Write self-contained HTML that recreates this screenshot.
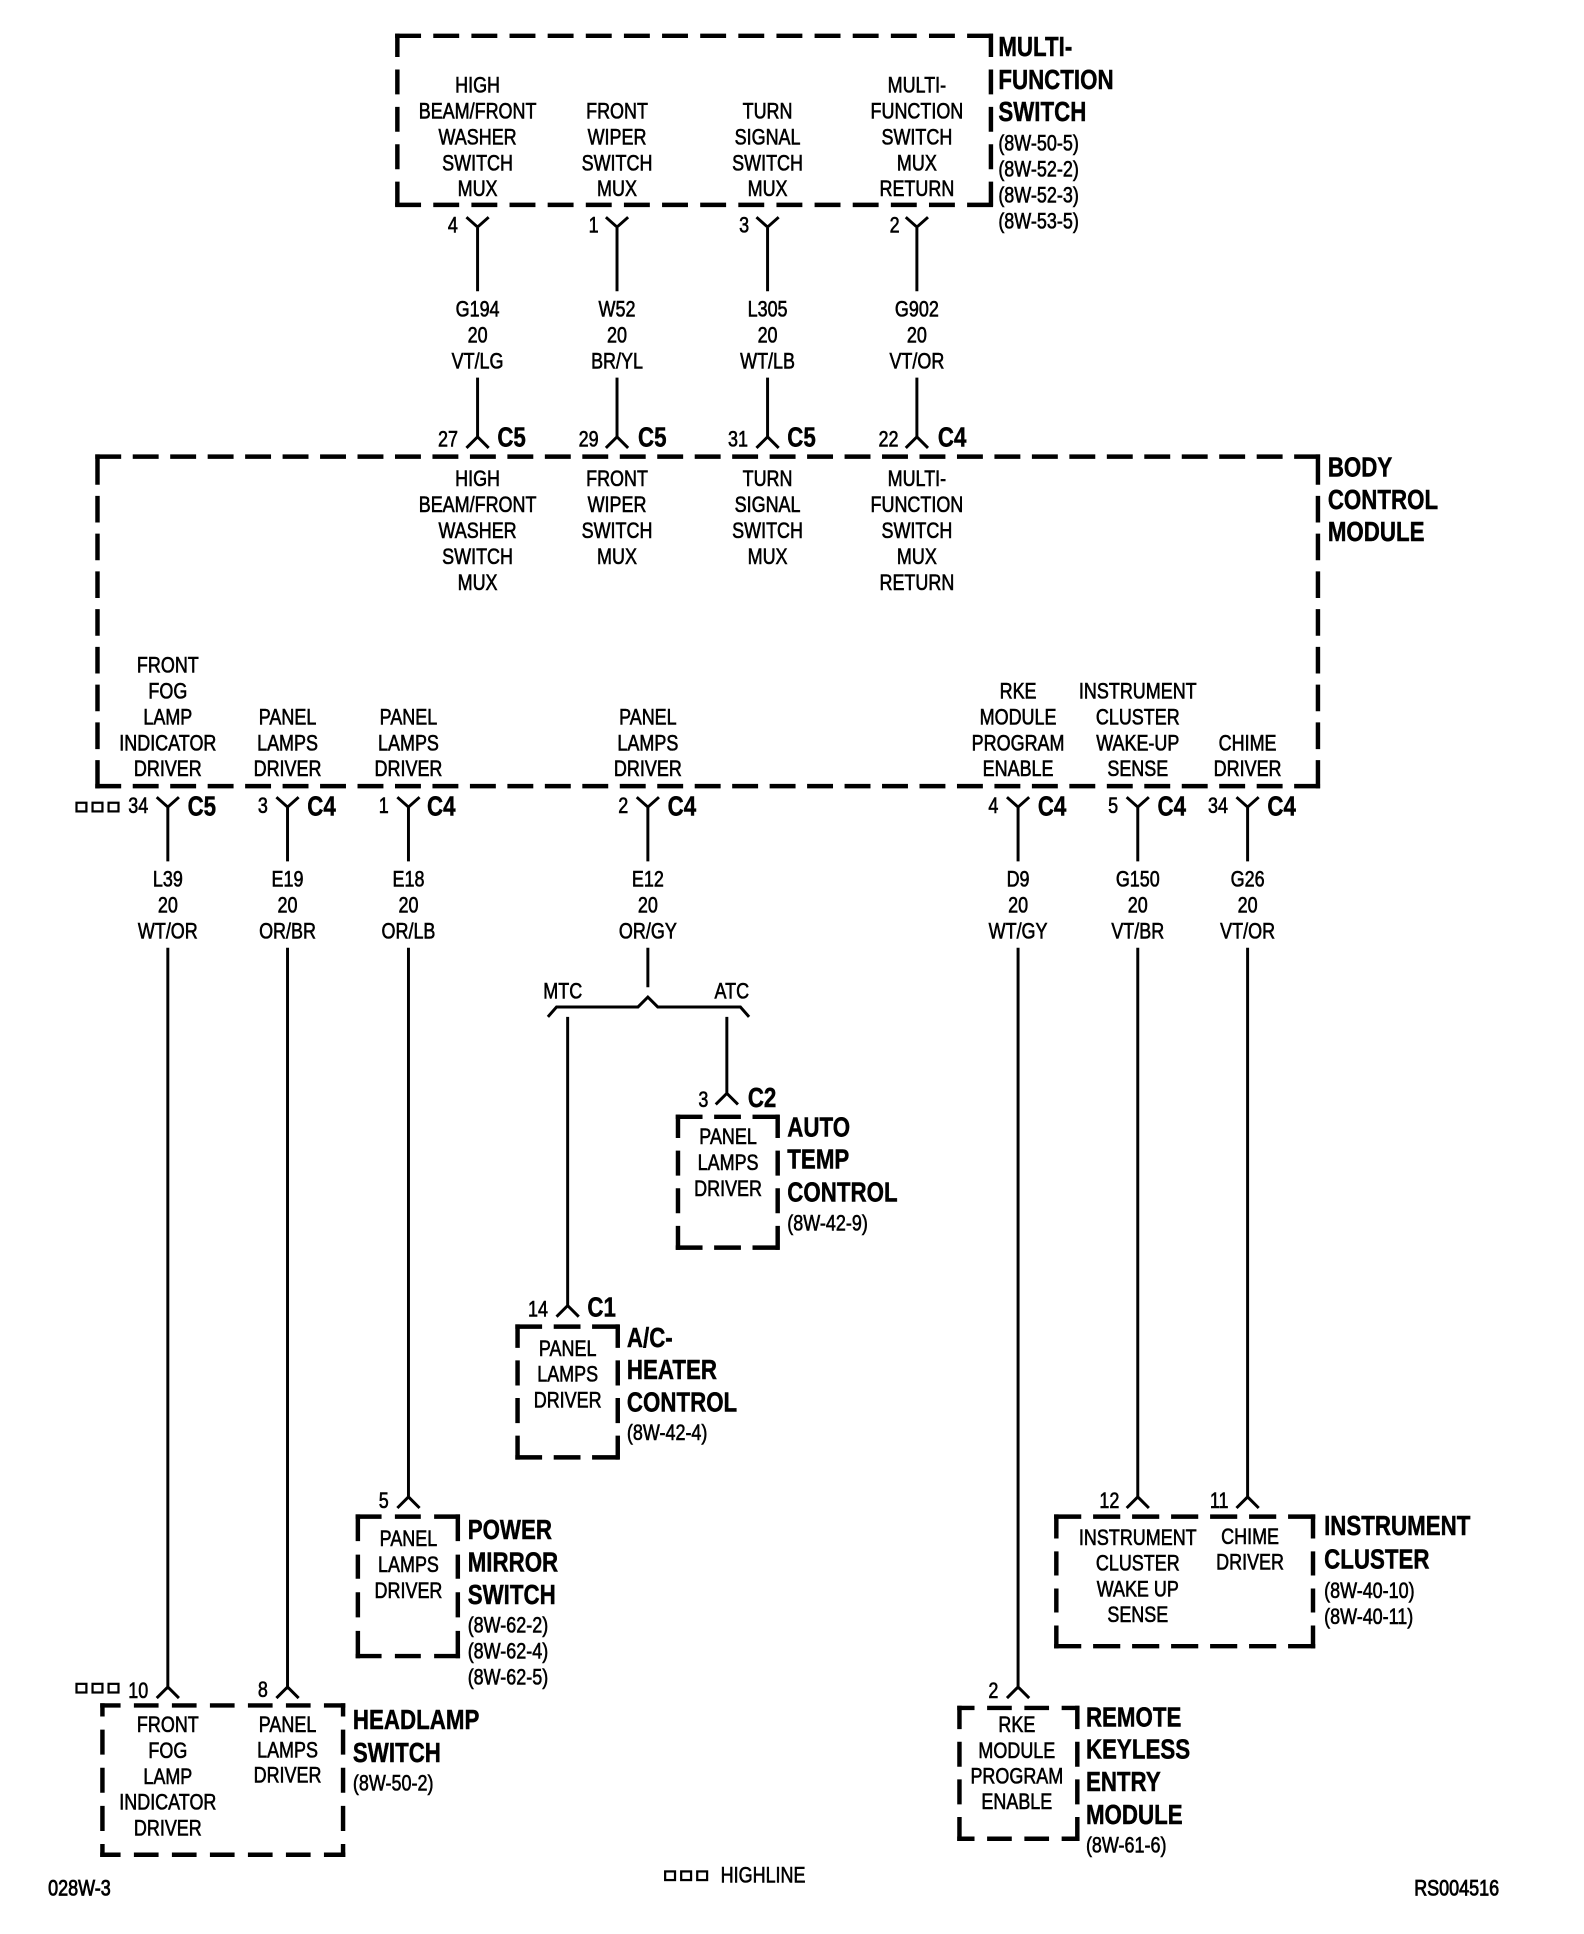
<!DOCTYPE html>
<html><head><meta charset="utf-8"><title>Wiring diagram</title>
<style>
html,body{margin:0;padding:0;background:#fff}
svg{display:block}
text{font-family:"Liberation Sans",Arial,sans-serif;fill:#000}
.r text{font-size:18.2px;stroke:#000;stroke-width:.5px}
.c text{text-anchor:middle}
.b text{font-size:22.6px;font-weight:700;stroke:#000;stroke-width:.4px}
.b text.r{font-size:18.2px;font-weight:400;stroke-width:.5px}
.d{fill:none;stroke:#000;stroke-width:3.6}
.w{fill:none;stroke:#000;stroke-width:2.4}
.s{fill:none;stroke:#000;stroke-width:1.8}
</style></head><body>
<svg xmlns="http://www.w3.org/2000/svg" width="1584" height="1934" viewBox="0 0 1283.6 1567.2">

<!-- dashed boxes -->
<path class="d" stroke-dasharray="21 9.9" d="M320.2 29H804.8M320.2 166H804.8"/>
<path class="d" stroke-dasharray="19 10.1 20.2 10.1 20.2 10.1 20.2 10.1 20" d="M322 27.2V167.8M803 27.2V167.8"/>
<path class="d" stroke-dasharray="21 9.36" d="M77.2 370H1069.8M77.2 637H1069.8"/>
<path class="d" stroke-dasharray="24.6 9 21.6 9 21.6 9 21.6 9 21.6 9 21.6 9 21.6 9 21.6 9 99" d="M79 368.2V638.8M1068 368.2V638.8"/>
<path class="d" stroke-dasharray="21.7 9.4" d="M547.6 905H632M547.6 1011H632"/>
<path class="d" stroke-dasharray="19 10.2 20.3 10.2 20.3 10.2 20" d="M549.4 903.2V1012.8M630.2 903.2V1012.8"/>
<path class="d" stroke-dasharray="21.7 9.4" d="M417.6 1075H502.4M417.6 1181H502.4"/>
<path class="d" stroke-dasharray="19 10.2 20.3 10.2 20.3 10.2 20" d="M419.4 1073.2V1182.8M500.6 1073.2V1182.8"/>
<path class="d" stroke-dasharray="21 10.8" d="M288.2 1229H372.8M288.2 1342H372.8"/>
<path class="d" stroke-dasharray="21.6 11 19.5 11 20.3 11 23" d="M290 1227.2V1343.8M371 1227.2V1343.8"/>
<path class="d" stroke-dasharray="16.5 10.8 20 10.8 20 10.8 20 10.8 20 10.8 20 10.8 20" d="M81.2 1382H279.8M81.2 1503H279.8"/>
<path class="d" stroke-dasharray="10.8 10.6 20.3 10.6 20.3 10.6 20.3 10.6 14" d="M83 1380.2V1504.8M278 1380.2V1504.8"/>
<path class="d" stroke-dasharray="22 9.6" d="M854.2 1229H1065.8M854.2 1334H1065.8"/>
<path class="d" stroke-dasharray="19.5 10.5" d="M856 1227.2V1335.8M1064 1227.2V1335.8"/>
<path class="d" stroke-dasharray="14 10.2 20 10.2 20 10.2 20" d="M775.7 1384H874.8M775.7 1490H874.8"/>
<path class="d" stroke-dasharray="19 10.2 20.3 10.2 20.3 10.2 20" d="M777.5 1382.2V1491.8M873 1382.2V1491.8"/>

<!-- wires and connector marks -->
<path class="w" d="
M378 176l9 8 9-8M387 184V236M387 306V354M378 363l9-9 9 9
M491 176l9 8 9-8M500 184V236M500 306V354M491 363l9-9 9 9
M613 176l9 8 9-8M622 184V236M622 306V354M613 363l9-9 9 9
M734 176l9 8 9-8M743 184V236M743 306V354M734 363l9-9 9 9
M127 646l9 8 9-8M136 654V698M136 768V1367M127 1376l9-9 9 9
M224 646l9 8 9-8M233 654V698M233 768V1367M224 1376l9-9 9 9
M322 646l9 8 9-8M331 654V698M331 768V1213M322 1222l9-9 9 9
M516 646l9 8 9-8M525 654V698M525 768V800
M444 824l7-8H517l8-8 8 8H600l7 8
M460 824V1058M451 1067l9-9 9 9
M589 824V886M580 895l9-9 9 9
M816 646l9 8 9-8M825 654V698M825 768V1367M816 1376l9-9 9 9
M913 646l9 8 9-8M922 654V698M922 768V1213M913 1222l9-9 9 9
M1002 646l9 8 9-8M1011 654V698M1011 768V1213M1002 1222l9-9 9 9"/>

<!-- highline squares -->
<g class="s">
<rect x="62" y="650.5" width="8" height="7"/><rect x="75" y="650.5" width="8" height="7"/><rect x="88" y="650.5" width="8" height="7"/>
<rect x="62" y="1364.5" width="8" height="7"/><rect x="75" y="1364.5" width="8" height="7"/><rect x="88" y="1364.5" width="8" height="7"/>
<rect x="539" y="1516.5" width="8" height="7"/><rect x="552" y="1516.5" width="8" height="7"/><rect x="565" y="1516.5" width="8" height="7"/>
</g>

<!-- centered regular labels -->
<g class="r c">
<g transform="translate(387 0) scale(.8 1)"><text y="75">HIGH</text><text y="96">BEAM/FRONT</text><text y="117">WASHER</text><text y="138">SWITCH</text><text y="159">MUX</text>
<text y="256.5">G194</text><text y="277.5">20</text><text y="298.5">VT/LG</text>
<text y="394">HIGH</text><text y="415">BEAM/FRONT</text><text y="436">WASHER</text><text y="457">SWITCH</text><text y="478">MUX</text></g>
<g transform="translate(500 0) scale(.8 1)"><text y="96">FRONT</text><text y="117">WIPER</text><text y="138">SWITCH</text><text y="159">MUX</text>
<text y="256.5">W52</text><text y="277.5">20</text><text y="298.5">BR/YL</text>
<text y="394">FRONT</text><text y="415">WIPER</text><text y="436">SWITCH</text><text y="457">MUX</text></g>
<g transform="translate(622 0) scale(.8 1)"><text y="96">TURN</text><text y="117">SIGNAL</text><text y="138">SWITCH</text><text y="159">MUX</text>
<text y="256.5">L305</text><text y="277.5">20</text><text y="298.5">WT/LB</text>
<text y="394">TURN</text><text y="415">SIGNAL</text><text y="436">SWITCH</text><text y="457">MUX</text></g>
<g transform="translate(743 0) scale(.8 1)"><text y="75">MULTI-</text><text y="96">FUNCTION</text><text y="117">SWITCH</text><text y="138">MUX</text><text y="159">RETURN</text>
<text y="256.5">G902</text><text y="277.5">20</text><text y="298.5">VT/OR</text>
<text y="394">MULTI-</text><text y="415">FUNCTION</text><text y="436">SWITCH</text><text y="457">MUX</text><text y="478">RETURN</text></g>

<g transform="translate(136 0) scale(.8 1)"><text y="545">FRONT</text><text y="566">FOG</text><text y="587">LAMP</text><text y="608">INDICATOR</text><text y="629">DRIVER</text>
<text y="718.5">L39</text><text y="739.5">20</text><text y="760.5">WT/OR</text>
<text y="1403.5">FRONT</text><text y="1424.5">FOG</text><text y="1445.5">LAMP</text><text y="1466.5">INDICATOR</text><text y="1487.5">DRIVER</text></g>
<g transform="translate(233 0) scale(.8 1)"><text y="587">PANEL</text><text y="608">LAMPS</text><text y="629">DRIVER</text>
<text y="718.5">E19</text><text y="739.5">20</text><text y="760.5">OR/BR</text>
<text y="1403.5">PANEL</text><text y="1424">LAMPS</text><text y="1444.5">DRIVER</text></g>
<g transform="translate(331 0) scale(.8 1)"><text y="587">PANEL</text><text y="608">LAMPS</text><text y="629">DRIVER</text>
<text y="718.5">E18</text><text y="739.5">20</text><text y="760.5">OR/LB</text>
<text y="1253">PANEL</text><text y="1274">LAMPS</text><text y="1295">DRIVER</text></g>
<g transform="translate(525 0) scale(.8 1)"><text y="587">PANEL</text><text y="608">LAMPS</text><text y="629">DRIVER</text>
<text y="718.5">E12</text><text y="739.5">20</text><text y="760.5">OR/GY</text></g>
<g transform="translate(825 0) scale(.8 1)"><text y="566">RKE</text><text y="587">MODULE</text><text y="608">PROGRAM</text><text y="629">ENABLE</text>
<text y="718.5">D9</text><text y="739.5">20</text><text y="760.5">WT/GY</text></g>
<g transform="translate(824 0) scale(.8 1)"><text y="1403.7">RKE</text><text y="1424.7">MODULE</text><text y="1445.2">PROGRAM</text><text y="1466">ENABLE</text></g>
<g transform="translate(922 0) scale(.8 1)"><text y="566">INSTRUMENT</text><text y="587">CLUSTER</text><text y="608">WAKE-UP</text><text y="629">SENSE</text>
<text y="718.5">G150</text><text y="739.5">20</text><text y="760.5">VT/BR</text>
<text y="1252">INSTRUMENT</text><text y="1272.7">CLUSTER</text><text y="1293.7">WAKE UP</text><text y="1314.5">SENSE</text></g>
<g transform="translate(1011 0) scale(.8 1)"><text y="608">CHIME</text><text y="629">DRIVER</text>
<text y="718.5">G26</text><text y="739.5">20</text><text y="760.5">VT/OR</text></g>
<g transform="translate(1013 0) scale(.8 1)"><text y="1251">CHIME</text><text y="1272">DRIVER</text></g>
<g transform="translate(456 0) scale(.8 1)"><text y="809">MTC</text></g>
<g transform="translate(593 0) scale(.8 1)"><text y="809">ATC</text></g>
<g transform="translate(590 0) scale(.8 1)"><text y="927">PANEL</text><text y="948">LAMPS</text><text y="969">DRIVER</text></g>
<g transform="translate(460 0) scale(.8 1)"><text y="1098.8">PANEL</text><text y="1119.5">LAMPS</text><text y="1140.5">DRIVER</text></g>

<!-- pin numbers -->
<g transform="translate(367 0) scale(.8 1)"><text y="188.5">4</text></g>
<g transform="translate(481 0) scale(.8 1)"><text y="188.5">1</text></g>
<g transform="translate(603 0) scale(.8 1)"><text y="188.5">3</text></g>
<g transform="translate(725 0) scale(.8 1)"><text y="188.5">2</text></g>
<g transform="translate(363 0) scale(.8 1)"><text y="362">27</text></g>
<g transform="translate(477 0) scale(.8 1)"><text y="362">29</text></g>
<g transform="translate(598 0) scale(.8 1)"><text y="362">31</text></g>
<g transform="translate(720 0) scale(.8 1)"><text y="362">22</text></g>
<g transform="translate(112 0) scale(.8 1)"><text y="659">34</text></g>
<g transform="translate(213 0) scale(.8 1)"><text y="659">3</text></g>
<g transform="translate(311 0) scale(.8 1)"><text y="659">1</text></g>
<g transform="translate(505 0) scale(.8 1)"><text y="659">2</text></g>
<g transform="translate(805 0) scale(.8 1)"><text y="659">4</text></g>
<g transform="translate(902 0) scale(.8 1)"><text y="659">5</text></g>
<g transform="translate(987 0) scale(.8 1)"><text y="659">34</text></g>
<g transform="translate(570 0) scale(.8 1)"><text y="897">3</text></g>
<g transform="translate(436 0) scale(.8 1)"><text y="1067">14</text></g>
<g transform="translate(311 0) scale(.8 1)"><text y="1222">5</text></g>
<g transform="translate(112 0) scale(.8 1)"><text y="1376">10</text></g>
<g transform="translate(213 0) scale(.8 1)"><text y="1375">8</text></g>
<g transform="translate(805 0) scale(.8 1)"><text y="1376">2</text></g>
<g transform="translate(899 0) scale(.8 1)"><text y="1222">12</text></g>
<g transform="translate(988 0) scale(.8 1)"><text y="1222">11</text></g>
</g>

<!-- connector ids (bold) -->
<g class="b">
<g transform="translate(403 0) scale(.8 1)"><text y="362">C5</text></g>
<g transform="translate(517 0) scale(.8 1)"><text y="362">C5</text></g>
<g transform="translate(638 0) scale(.8 1)"><text y="362">C5</text></g>
<g transform="translate(760 0) scale(.8 1)"><text y="362">C4</text></g>
<g transform="translate(152 0) scale(.8 1)"><text y="661">C5</text></g>
<g transform="translate(249 0) scale(.8 1)"><text y="661">C4</text></g>
<g transform="translate(346 0) scale(.8 1)"><text y="661">C4</text></g>
<g transform="translate(541 0) scale(.8 1)"><text y="661">C4</text></g>
<g transform="translate(841 0) scale(.8 1)"><text y="661">C4</text></g>
<g transform="translate(938 0) scale(.8 1)"><text y="661">C4</text></g>
<g transform="translate(1027 0) scale(.8 1)"><text y="661">C4</text></g>
<g transform="translate(606 0) scale(.8 1)"><text y="897">C2</text></g>
<g transform="translate(476 0) scale(.8 1)"><text y="1067">C1</text></g>

<!-- titles -->
<g transform="translate(809 0) scale(.8 1)"><text y="45.5">MULTI-</text><text y="72">FUNCTION</text><text y="98">SWITCH</text><text class="r" y="122">(8W-50-5)</text><text class="r" y="143">(8W-52-2)</text><text class="r" y="164">(8W-52-3)</text><text class="r" y="185">(8W-53-5)</text></g>
<g transform="translate(1076 0) scale(.8 1)"><text y="386">BODY</text><text y="412.5">CONTROL</text><text y="438.5">MODULE</text></g>
<g transform="translate(638 0) scale(.8 1)"><text y="921">AUTO</text><text y="947">TEMP</text><text y="973.5">CONTROL</text><text class="r" y="997">(8W-42-9)</text></g>
<g transform="translate(508 0) scale(.8 1)"><text y="1091.5">A/C-</text><text y="1117.5">HEATER</text><text y="1144">CONTROL</text><text class="r" y="1167">(8W-42-4)</text></g>
<g transform="translate(379 0) scale(.8 1)"><text y="1247">POWER</text><text y="1273.5">MIRROR</text><text y="1300">SWITCH</text><text class="r" y="1323">(8W-62-2)</text><text class="r" y="1344">(8W-62-4)</text><text class="r" y="1365">(8W-62-5)</text></g>
<g transform="translate(286 0) scale(.8 1)"><text y="1401">HEADLAMP</text><text y="1428">SWITCH</text><text class="r" y="1451">(8W-50-2)</text></g>
<g transform="translate(880 0) scale(.8 1)"><text y="1399">REMOTE</text><text y="1425">KEYLESS</text><text y="1451.5">ENTRY</text><text y="1478">MODULE</text><text class="r" y="1501">(8W-61-6)</text></g>
<g transform="translate(1073 0) scale(.8 1)"><text y="1244">INSTRUMENT</text><text y="1271">CLUSTER</text><text class="r" y="1295">(8W-40-10)</text><text class="r" y="1316">(8W-40-11)</text></g>
</g>

<!-- footer -->
<g class="r">
<g transform="translate(39 0) scale(.8 1)"><text y="1536" style="stroke-width:.7px">028W-3</text></g>
<g transform="translate(584 0) scale(.8 1)"><text y="1525.5">HIGHLINE</text></g>
<g transform="translate(1146 0) scale(.8 1)"><text y="1536" style="stroke-width:.7px">RS004516</text></g>
</g>
</svg>
</body></html>
